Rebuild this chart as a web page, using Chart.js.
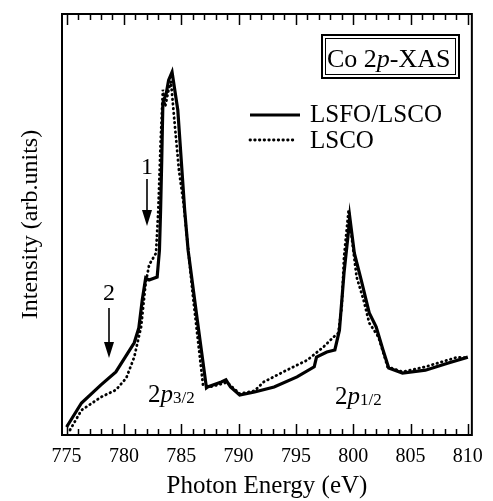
<!DOCTYPE html>
<html>
<head>
<meta charset="utf-8">
<script src="https://cdn.jsdelivr.net/npm/chart.js@4/dist/chart.umd.min.js"></script>
<style>
  body { margin: 0; background: #fff; }
  #wrap { width: 493px; height: 501px; }
</style>
</head>
<body>
<div id="wrap"><canvas id="xas" width="493" height="501"></canvas></div>
<script>
// values (photon energy in eV, intensity in arb. units 0-100)
const lsfo_energy = [775.0, 776.3, 778.0, 779.3, 780.9, 781.3, 781.6, 781.9, 782.2, 782.9, 783.1, 783.2, 783.3, 783.4, 783.7, 783.9, 784.2, 784.7, 785.3, 785.6, 786.4, 787.2, 787.3, 788.5, 788.9, 789.3, 790.1, 791.4, 793.1, 795.1, 796.6, 796.8, 797.7, 798.4, 798.8, 799.2, 799.6, 799.7, 800.1, 800.7, 801.4, 802.0, 802.6, 803.1, 804.3, 806.3, 808.3, 810.0];
const lsfo_intensity = [1.9, 7.6, 11.9, 15.0, 21.9, 25.4, 32.1, 37.3, 36.8, 37.5, 43.9, 53.4, 65.3, 78.9, 81.2, 84.3, 86.2, 77.2, 53.4, 43.9, 27.3, 11.2, 11.4, 12.6, 13.1, 11.4, 9.5, 10.2, 11.4, 13.8, 16.2, 18.5, 19.7, 20.2, 24.9, 38.5, 48.7, 51.8, 43.2, 36.8, 29.0, 25.7, 20.2, 15.9, 14.7, 15.4, 17.1, 18.5];

const lsco_energy = [775.3, 776.3, 778.0, 779.3, 780.2, 780.9, 781.5, 781.9, 782.2, 782.8, 783.0, 783.2, 783.4, 783.6, 783.9, 784.1, 784.4, 784.8, 785.2, 786.0, 786.9, 787.5, 789.0, 790.1, 791.4, 792.2, 794.2, 796.0, 797.4, 798.3, 798.7, 799.0, 799.2, 799.6, 799.9, 800.3, 800.9, 801.4, 802.2, 803.0, 804.3, 806.3, 809.1, 810.0];
const lsco_intensity = [1.2, 5.9, 9.0, 10.7, 13.5, 18.5, 25.7, 36.1, 40.4, 43.2, 53.4, 69.4, 82.0, 78.0, 82.0, 84.0, 74.8, 62.9, 55.1, 33.5, 11.9, 11.4, 12.5, 9.8, 10.5, 12.6, 15.4, 17.8, 20.9, 23.3, 24.2, 30.4, 42.3, 53.4, 46.3, 37.5, 32.1, 26.6, 23.3, 16.2, 15.0, 16.2, 18.5, 18.3];

const x_tick_values = [775, 780, 785, 790, 795, 800, 805, 810];
const series_names = ["LSFO/LSCO", "LSCO"];

const serif = "'Liberation Serif', 'DejaVu Serif', serif";

function toPoints(xs, ys) {
  let pts = [];
  for (let i = 0; i < xs.length; i++) {
    pts.push({x: xs[i], y: ys[i]});
  }
  return pts;
}

function drawArrow(ctx, x, y_from, y_to) {
  ctx.beginPath();
  ctx.moveTo(x, y_from);
  ctx.lineTo(x, y_to - 12);
  ctx.lineWidth = 1.6;
  ctx.stroke();
  ctx.beginPath();
  ctx.moveTo(x - 5, y_to - 16);
  ctx.lineTo(x + 5, y_to - 16);
  ctx.lineTo(x, y_to);
  ctx.closePath();
  ctx.fill();
}

// frame, inward ticks, legend and the text labels
const decorations = {
  id: "decorations",
  afterDatasetsDraw(chart) {
    const ctx = chart.ctx;
    const area = chart.chartArea;
    const xs = chart.scales.x;
    ctx.save();
    ctx.strokeStyle = "#000";
    ctx.fillStyle = "#000";
    ctx.setLineDash([]);

    ctx.lineWidth = 2;
    ctx.strokeRect(area.left, area.top, area.right - area.left, area.bottom - area.top);

    ctx.lineWidth = 1.5;
    for (let e = 775; e <= 810; e++) {
      let px = Math.round(xs.getPixelForValue(e)) + 0.5;
      let len = (e % 5 == 0) ? 11 : 6;
      ctx.beginPath();
      ctx.moveTo(px, area.bottom);
      ctx.lineTo(px, area.bottom - len);
      ctx.moveTo(px, area.top);
      ctx.lineTo(px, area.top + len);
      ctx.stroke();
    }

    // legend
    const ds = chart.data.datasets;
    const rows = [115, 140];
    for (let i = 0; i < ds.length; i++) {
      ctx.beginPath();
      ctx.lineWidth = ds[i].borderWidth;
      ctx.lineCap = ds[i].borderCapStyle || "butt";
      ctx.setLineDash(ds[i].borderDash || []);
      ctx.moveTo(250, rows[i]);
      ctx.lineTo(i == 0 ? 300 : 293, rows[i]);
      ctx.stroke();
    }
    ctx.setLineDash([]);
    ctx.lineCap = "butt";
    ctx.font = "25px " + serif;
    ctx.textBaseline = "alphabetic";
    ctx.textAlign = "left";
    ctx.fillText(series_names[0], 310, 122);
    ctx.fillText(series_names[1], 310, 148);

    // Co 2p-XAS box
    ctx.lineWidth = 2;
    ctx.strokeRect(322, 35, 137, 43);
    ctx.lineWidth = 1;
    ctx.strokeRect(325.5, 38.5, 130, 36);
    let tx = 327;
    ctx.font = "26px " + serif;
    ctx.fillText("Co 2", tx, 67);
    tx += ctx.measureText("Co 2").width;
    ctx.font = "italic 26px " + serif;
    ctx.fillText("p", tx, 67);
    tx += ctx.measureText("p").width;
    ctx.font = "26px " + serif;
    ctx.fillText("-XAS", tx, 67);

    // 2p labels
    const peak_labels = [["3/2", 148, 402], ["1/2", 335, 404]];
    for (let k = 0; k < peak_labels.length; k++) {
      let lx = peak_labels[k][1];
      let ly = peak_labels[k][2];
      ctx.font = "25px " + serif;
      ctx.fillText("2", lx, ly);
      lx += ctx.measureText("2").width;
      ctx.font = "italic 25px " + serif;
      ctx.fillText("p", lx, ly);
      lx += ctx.measureText("p").width;
      ctx.font = "17px " + serif;
      ctx.fillText(peak_labels[k][0], lx, ly + 1);
    }

    // arrows 1 and 2
    ctx.font = "24px " + serif;
    ctx.textAlign = "center";
    ctx.fillText("1", 147, 174);
    drawArrow(ctx, 147, 179, 226);
    ctx.fillText("2", 109, 300);
    drawArrow(ctx, 109, 308, 358);

    ctx.restore();
  }
};

new Chart(document.getElementById("xas"), {
  type: "line",
  data: {
    datasets: [{
      label: series_names[0],
      data: toPoints(lsfo_energy, lsfo_intensity),
      borderColor: "#000",
      borderWidth: 3.2,
      pointRadius: 0,
      tension: 0,
      fill: false
    }, {
      label: series_names[1],
      data: toPoints(lsco_energy, lsco_intensity),
      borderColor: "#000",
      borderWidth: 2.8,
      borderDash: [0.5, 4.2],
      borderCapStyle: "round",
      pointRadius: 0,
      tension: 0,
      fill: false
    }]
  },
  options: {
    responsive: false,
    animation: false,
    devicePixelRatio: 1,
    layout: { padding: { top: 14, right: 16, left: 0, bottom: 0 } },
    plugins: {
      legend: { display: false },
      tooltip: { enabled: false }
    },
    scales: {
      x: {
        type: "linear",
        min: 774.6,
        max: 810.35,
        afterBuildTicks: function (scale) {
          scale.ticks = x_tick_values.map(function (v) { return {value: v}; });
        },
        afterFit: function (scale) { scale.height = 66; },
        grid: { display: false, drawTicks: false },
        border: { display: false },
        ticks: {
          padding: 10,
          color: "#000",
          font: { family: serif, size: 20 }
        },
        title: {
          display: true,
          text: "Photon Energy (eV)",
          color: "#000",
          font: { family: serif, size: 25 },
          padding: { top: 0, bottom: 0 }
        }
      },
      y: {
        min: 0,
        max: 100,
        afterFit: function (scale) { scale.width = 62; },
        grid: { display: false, drawTicks: false },
        border: { display: false },
        ticks: { display: false },
        title: {
          display: true,
          text: "Intensity (arb.units)",
          color: "#000",
          font: { family: serif, size: 24 },
          padding: { top: 16, bottom: 0 }
        }
      }
    }
  },
  plugins: [decorations]
});
</script>
</body>
</html>
